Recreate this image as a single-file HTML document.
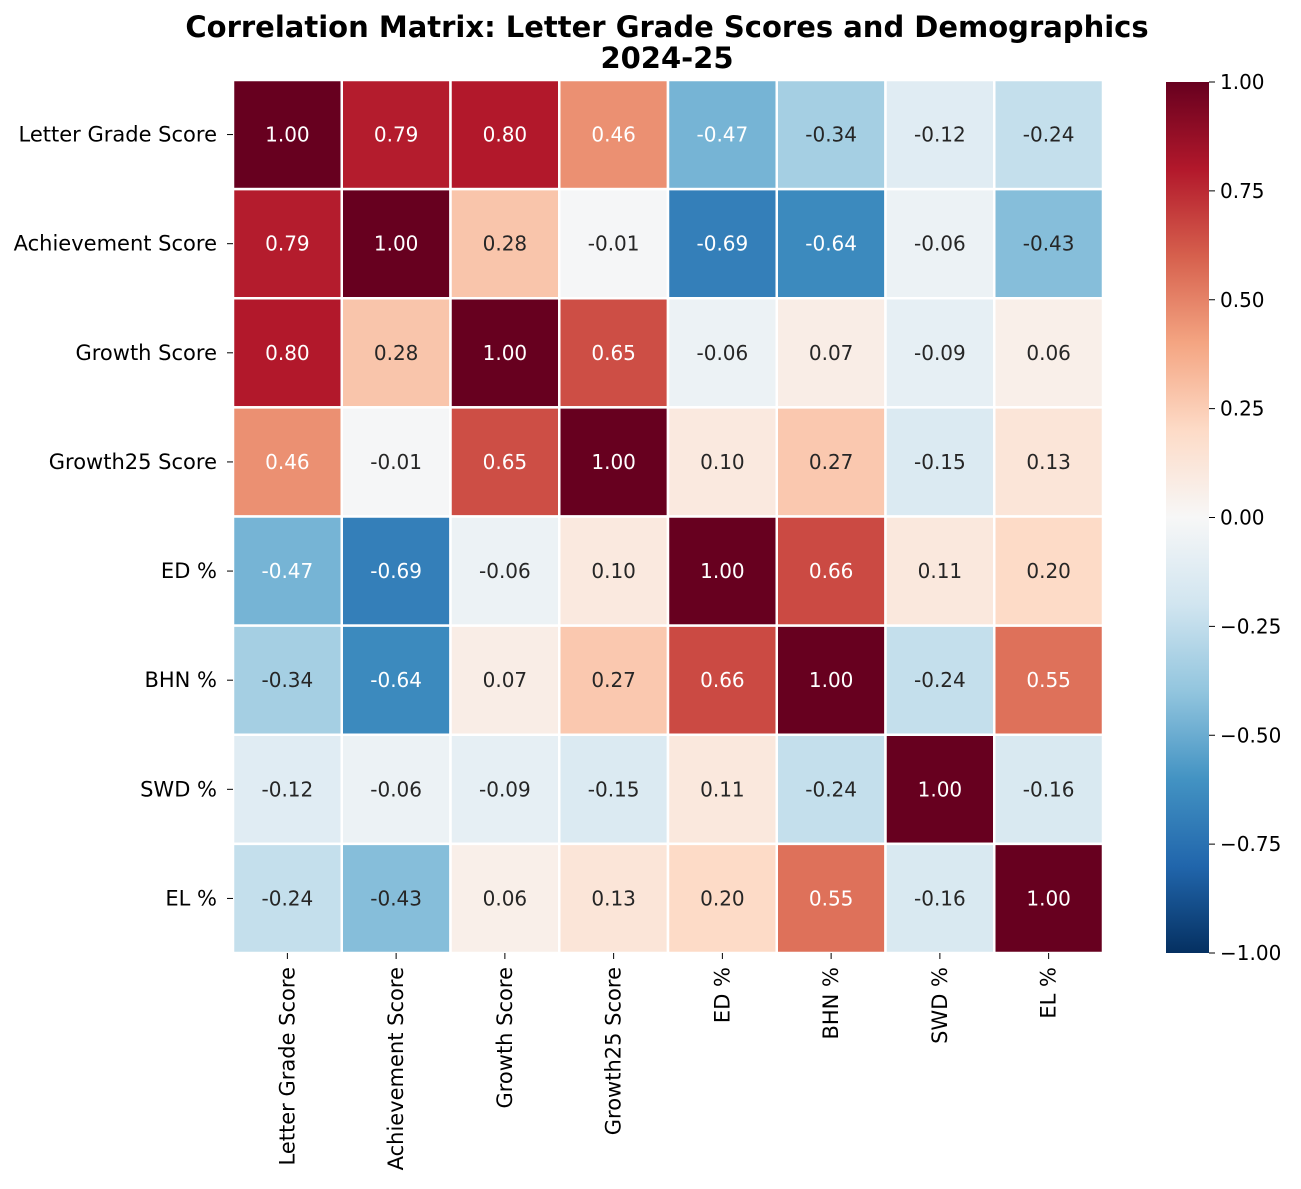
<!DOCTYPE html>
<html><head><meta charset="utf-8">
<style>
body{margin:0;background:#fff;}
svg text{font-family:"DejaVu Sans","Liberation Sans",sans-serif;}
</style></head>
<body>
<svg id="chart" width="1301" height="1184" xmlns="http://www.w3.org/2000/svg">
<defs>
<linearGradient id="cbgrad" x1="0" y1="1" x2="0" y2="0">
<stop offset="0" stop-color="#053061"/><stop offset="0.1" stop-color="#2166ac"/><stop offset="0.2" stop-color="#4393c3"/><stop offset="0.3" stop-color="#92c5de"/><stop offset="0.4" stop-color="#d1e5f0"/><stop offset="0.5" stop-color="#f7f7f7"/><stop offset="0.6" stop-color="#fddbc7"/><stop offset="0.7" stop-color="#f4a582"/><stop offset="0.8" stop-color="#d6604d"/><stop offset="0.9" stop-color="#b2182b"/><stop offset="1" stop-color="#67001f"/>
</linearGradient>
</defs>
<text x="667" y="37" text-anchor="middle" font-size="29" font-weight="bold">Correlation Matrix: Letter Grade Scores and Demographics</text>
<text x="667" y="68" text-anchor="middle" font-size="29" font-weight="bold">2024-25</text>
<g id="cells"></g>
<g id="ylabels"></g>
<g id="xlabels"></g>
<rect x="1166" y="82" width="43" height="871" fill="url(#cbgrad)"/>
<g id="cbticks"></g>
</svg>
<script>
const categories = ["Letter Grade Score","Achievement Score","Growth Score","Growth25 Score","ED %","BHN %","SWD %","EL %"];
const row0 = [1.00,0.79,0.80,0.46,-0.47,-0.34,-0.12,-0.24];
const row1 = [0.79,1.00,0.28,-0.01,-0.69,-0.64,-0.06,-0.43];
const row2 = [0.80,0.28,1.00,0.65,-0.06,0.07,-0.09,0.06];
const row3 = [0.46,-0.01,0.65,1.00,0.10,0.27,-0.15,0.13];
const row4 = [-0.47,-0.69,-0.06,0.10,1.00,0.66,0.11,0.20];
const row5 = [-0.34,-0.64,0.07,0.27,0.66,1.00,-0.24,0.55];
const row6 = [-0.12,-0.06,-0.09,-0.15,0.11,-0.24,1.00,-0.16];
const row7 = [-0.24,-0.43,0.06,0.13,0.20,0.55,-0.16,1.00];
const matrix = [row0,row1,row2,row3,row4,row5,row6,row7];
const cbTickLabels = ["1.00","0.75","0.50","0.25","0.00","\u22120.25","\u22120.50","\u22120.75","\u22121.00"];
const cbTickValues = [1,0.75,0.5,0.25,0,-0.25,-0.5,-0.75,-1];

const NS="http://www.w3.org/2000/svg";
const X0=233,X1=1103,Y0=80,Y1=953;
const n=categories.length, cw=(X1-X0)/n, ch=(Y1-Y0)/n;
const xPos=i=>X0+i*cw, yPos=i=>Y0+i*ch;
const stops=["#053061","#2166ac","#4393c3","#92c5de","#d1e5f0","#f7f7f7","#fddbc7","#f4a582","#d6604d","#b2182b","#67001f"].map(h=>[1,3,5].map(k=>parseInt(h.substr(k,2),16)));
function color(v){let t=(v+1)/2*10;let i=Math.min(9,Math.floor(t));let f=t-i;const a=stops[i],b=stops[i+1];return a.map((c,k)=>Math.round(c+(b[k]-c)*f));}
function lum(c){const l=c.map(x=>{x/=255;return x<=0.03928?x/12.92:Math.pow((x+0.055)/1.055,2.4);});return 0.2126*l[0]+0.7152*l[1]+0.0722*l[2];}
function fmt(v){return v.toFixed(2);}
const cells=document.getElementById("cells");
matrix.forEach((row,r)=>row.forEach((v,c)=>{
  const col=color(v);
  const rect=document.createElementNS(NS,"rect");
  rect.setAttribute("x",xPos(c));rect.setAttribute("y",yPos(r));rect.setAttribute("width",cw);rect.setAttribute("height",ch);
  rect.setAttribute("fill",`rgb(${col})`);rect.setAttribute("stroke","#fff");rect.setAttribute("stroke-width","2.5");
  
  
  cells.appendChild(rect);
  const t=document.createElementNS(NS,"text");
  t.setAttribute("x",xPos(c)+cw/2);t.setAttribute("y",yPos(r)+ch/2+7);t.setAttribute("text-anchor","middle");t.setAttribute("font-size","20");
  t.setAttribute("fill",(v>=0.46&&v<0.5)||(v<=-0.45)||lum(col)<=0.408?"#ffffff":"#262626");
  t.textContent=fmt(v);
  
  
  cells.appendChild(t);
}));
const yl=document.getElementById("ylabels"), xl=document.getElementById("xlabels");
categories.forEach((name,i)=>{
  const cy=yPos(i)+ch/2;
  const tk=document.createElementNS(NS,"line");
  tk.setAttribute("x1",X0-6);tk.setAttribute("x2",X0);tk.setAttribute("y1",cy);tk.setAttribute("y2",cy);tk.setAttribute("stroke","#000");
  
  
  yl.appendChild(tk);
  const t=document.createElementNS(NS,"text");
  t.setAttribute("x",X0-16);t.setAttribute("y",cy+7);t.setAttribute("text-anchor","end");t.setAttribute("font-size","21");
  t.textContent=name;
  
  
  yl.appendChild(t);
  const cx=xPos(i)+cw/2;
  const tk2=document.createElementNS(NS,"line");
  tk2.setAttribute("x1",cx);tk2.setAttribute("x2",cx);tk2.setAttribute("y1",Y1);tk2.setAttribute("y2",Y1+6);tk2.setAttribute("stroke","#000");
  
  
  xl.appendChild(tk2);
  const t2=document.createElementNS(NS,"text");
  t2.setAttribute("transform",`translate(${cx+7},${Y1+14}) rotate(-90)`);t2.setAttribute("text-anchor","end");t2.setAttribute("font-size","21");
  t2.textContent=name;
  
  
  xl.appendChild(t2);
});
const cb=document.getElementById("cbticks");
const CB0=82,CB1=953;
const cbY=v=>CB1-(v+1)/2*(CB1-CB0);
cbTickValues.forEach((v,i)=>{
  const y=cbY(v);
  const tk=document.createElementNS(NS,"line");
  tk.setAttribute("x1",1209);tk.setAttribute("x2",1215);tk.setAttribute("y1",y);tk.setAttribute("y2",y);tk.setAttribute("stroke","#000");
  
  
  cb.appendChild(tk);
  const t=document.createElementNS(NS,"text");
  t.setAttribute("x",1220);t.setAttribute("y",y+7);t.setAttribute("font-size","20");
  t.textContent=cbTickLabels[i];
  
  
  cb.appendChild(t);
});
</script>
</body></html>
